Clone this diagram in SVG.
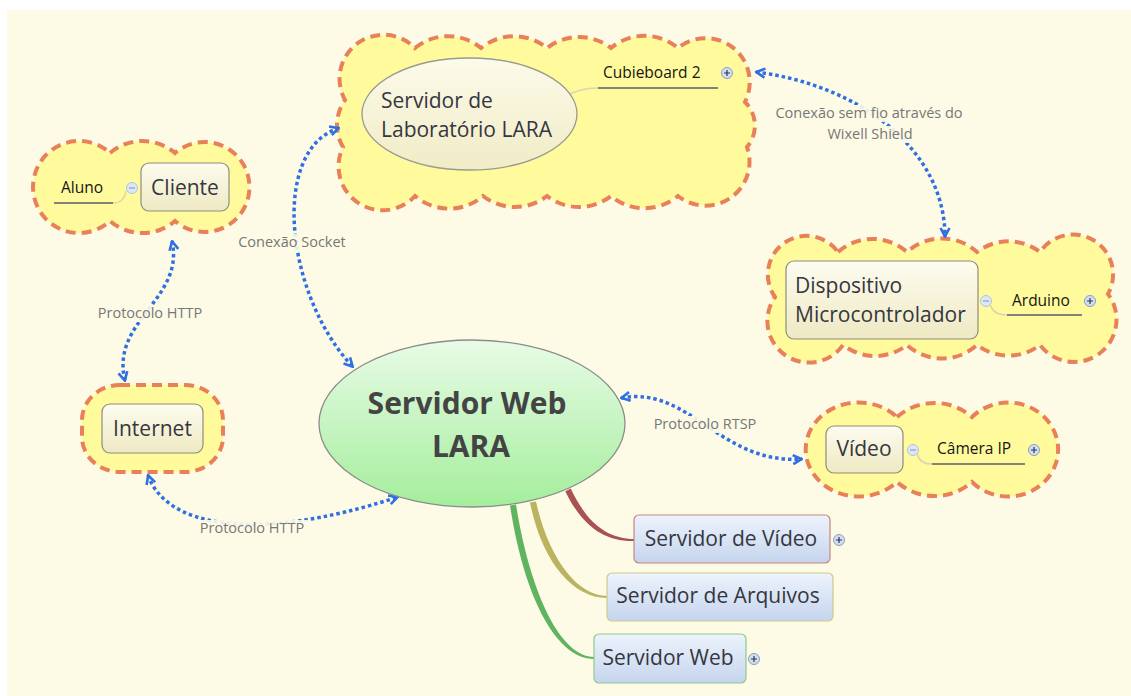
<svg xmlns="http://www.w3.org/2000/svg" width="1131" height="696" viewBox="0 0 1131 696">
  <defs>
    <linearGradient id="gCream" x1="0" y1="0" x2="0" y2="1">
      <stop offset="0" stop-color="#FDFCEF"/>
      <stop offset="1" stop-color="#EEE9C3"/>
    </linearGradient>
    <linearGradient id="gLab" x1="0" y1="0" x2="0" y2="1">
      <stop offset="0" stop-color="#FCFAEA"/>
      <stop offset="1" stop-color="#F0ECC6"/>
    </linearGradient>
    <linearGradient id="gCentral" x1="0" y1="0" x2="0" y2="1">
      <stop offset="0" stop-color="#E8FBE6"/>
      <stop offset="1" stop-color="#A4EE9C"/>
    </linearGradient>
    <linearGradient id="gBlue" x1="0" y1="0" x2="0" y2="1">
      <stop offset="0" stop-color="#EDF3FC"/>
      <stop offset="1" stop-color="#C5D5EE"/>
    </linearGradient>
    <marker id="chev" viewBox="0 0 12 12" refX="11" refY="6" markerWidth="12" markerHeight="12" markerUnits="userSpaceOnUse" orient="auto-start-reverse">
      <path d="M2,1.5 L10.5,6 L2,10.5" fill="none" stroke="#2F6FE4" stroke-width="2.6" stroke-linejoin="miter"/>
    </marker>
    <g id="plusIcon">
      <circle r="5.5" fill="#D2DEF1" stroke="#8C9EBE" stroke-width="1"/>
      <path d="M-3,0 H3 M0,-3 V3" stroke="#2E3650" stroke-width="1.2"/>
    </g>
    <g id="minusIcon">
      <circle r="5.5" fill="#DDE7F7" stroke="#B3C3DE" stroke-width="1"/>
      <path d="M-3,0 H3" stroke="#8FA0C2" stroke-width="1.2"/>
    </g>
  </defs>
  <style>
    .cloud { fill: #FFFB9C; stroke: #E8805A; stroke-width: 4; stroke-dasharray: 10 6; }
    .topic { fill: url(#gCream); stroke: #8E8C80; stroke-width: 1.2; }
    .sub { fill: url(#gBlue); stroke-width: 1.2; }
    .big { font-family: "Open Sans", "Noto Sans", sans-serif; font-size: 21px; fill: #363640; }
    .small { font-family: "Open Sans", "Noto Sans", sans-serif; font-size: 15.5px; fill: #151515; }
    .lbl { font-family: "Open Sans", "Noto Sans", sans-serif; font-size: 14.5px; fill: #777777; text-anchor: middle; }
    .lblbg { fill: #FDFBE6; opacity: 0.9; }
    .dot { fill: none; stroke: #2F6FE4; stroke-width: 3.5; stroke-dasharray: 3.5 3; marker-start: url(#chev); marker-end: url(#chev); }
    .uline { stroke: #5A5A6E; stroke-width: 1.3; fill: none; }
    .stem { stroke: #D9D5AE; stroke-width: 1.5; fill: none; }
  </style>

  <!-- page -->
  <rect x="7" y="10" width="1124" height="686" fill="#FDFBE6"/>

  <!-- clouds (boundaries) -->
  <g id="cloud-lab">
    <path class="cloud" d="M415,48 A52,52 0 0 1 481,48 A52,52 0 0 1 547,48 A52,52 0 0 1 611,48 A52,52 0 0 1 678,48 A44,44 0 0 1 745,102 A33,33 0 0 1 747,147 A44,44 0 0 1 678,196 A52,52 0 0 1 611,196 A52,52 0 0 1 547,196 A52,52 0 0 1 483,196 A52,52 0 0 1 415,196 A44,44 0 0 1 343,147 A43,43 0 0 1 345,100 A44,44 0 0 1 415,48 Z"/>
  </g>
  <g id="cloud-cliente">
    <path class="cloud" d="M110,153 A50,50 0 0 1 175,153 A45,45 0 1 1 175,221 A50,50 0 0 1 110,221 A46,46 0 1 1 110,153 Z"/>
  </g>
  <g id="cloud-internet">
    <rect class="cloud" x="82" y="385" width="141" height="87" rx="38" ry="35"/>
  </g>
  <g id="cloud-dispositivo">
    <path class="cloud" d="M838,252 A52,52 0 0 1 907,252 A52,52 0 0 1 977,252 A52,52 0 0 1 1040,252 A40,40 0 0 1 1108,294 A42.5,42.5 0 0 1 1040,345 A52,52 0 0 1 977,345 A52,52 0 0 1 907,345 A52,52 0 0 1 843,345 A41.6,41.6 0 0 1 775,297 A38.7,38.7 0 0 1 838,252 Z"/>
  </g>
  <g id="cloud-video">
    <path class="cloud" d="M897,417 A57,57 0 0 1 972,417 A50,47 0 1 1 972,482 A57,57 0 0 1 897,482 A53,47 0 1 1 897,417 Z"/>
  </g>

  <!-- branches from the central topic -->
  <g id="branches">
    <path d="M570.7,488.6 C587,523 607,539 635,539 L635,541 C605,542 583,527 565.3,491.4 Z" fill="#AA5252"/>
    <path d="M536,501.4 C548,557 577,596 607,596 L607,598 C573,598 542,562 530,502.6 Z" fill="#BAB460"/>
    <path d="M516,504.5 C531,598 562,657 594,657 L594,659 C558,659 525,602 510,505.5 Z" fill="#60B460"/>
  </g>

  <!-- relationship connectors -->
  <g id="connectors">
    <path class="dot" d="M172,241 C185,300 110,320 125,381"/>
    <path class="dot" d="M148,475 C165,525 250,545 398,497"/>
    <path class="dot" d="M339,128 C270,150 285,295 353,367"/>
    <path class="dot" d="M621,398 C690,385 720,465 802,459"/>
    <path class="dot" d="M756,72 C860,85 945,150 945,237"/>
    <rect class="lblbg" x="95" y="305" width="110" height="17"/>
    <rect class="lblbg" x="236" y="234" width="112" height="17"/>
    <rect class="lblbg" x="196" y="520" width="112" height="17"/>
    <rect class="lblbg" x="651" y="416" width="108" height="17"/>
    <rect class="lblbg" x="773" y="105" width="193" height="17"/>
    <rect class="lblbg" x="824" y="126" width="92" height="17"/>
    <text class="lbl" x="150" y="318">Protocolo HTTP</text>
    <text class="lbl" x="292" y="247">Conexão Socket</text>
    <text class="lbl" x="252" y="533">Protocolo HTTP</text>
    <text class="lbl" x="705" y="429">Protocolo RTSP</text>
    <text class="lbl" x="869" y="118">Conexão sem fio através do</text>
    <text class="lbl" x="870" y="139">Wixell Shield</text>
  </g>

  <!-- Servidor de Laboratório LARA -->
  <g id="node-lab">
    <path class="stem" d="M566,96 Q580,88 598,88"/>
    <ellipse cx="469.5" cy="114" rx="107.5" ry="56" fill="url(#gLab)" stroke="#9A9A90" stroke-width="1.3"/>
    <text class="big" x="381" y="108">Servidor de</text>
    <text class="big" x="381" y="137">Laboratório LARA</text>
  </g>
  <g id="node-cubieboard">
    <text class="small" x="603" y="78">Cubieboard 2</text>
    <path class="uline" d="M598,88 H718"/>
    <use href="#plusIcon" x="727" y="73"/>
  </g>

  <!-- Cliente -->
  <g id="node-cliente">
    <rect class="topic" x="141" y="163" width="88" height="48" rx="8"/>
    <text class="big" x="185" y="195" text-anchor="middle">Cliente</text>
    <use href="#minusIcon" x="132" y="188"/>
  </g>
  <g id="node-aluno">
    <path class="stem" d="M113,203 Q124,203 126,191"/>
    <text class="small" x="61" y="193">Aluno</text>
    <path class="uline" d="M54,203 H113"/>
  </g>

  <!-- Internet -->
  <g id="node-internet">
    <rect class="topic" x="102" y="404" width="101" height="49" rx="8"/>
    <text class="big" x="152.5" y="436" text-anchor="middle">Internet</text>
  </g>

  <!-- Dispositivo Microcontrolador -->
  <g id="node-dispositivo">
    <rect class="topic" x="786" y="261" width="192" height="78" rx="8"/>
    <text class="big" x="795" y="293">Dispositivo</text>
    <text class="big" x="795" y="322">Microcontrolador</text>
    <use href="#minusIcon" x="986" y="301"/>
  </g>
  <g id="node-arduino">
    <path class="stem" d="M990,304 Q993,315 1007,315"/>
    <text class="small" x="1012" y="306">Arduino</text>
    <path class="uline" d="M1007,315 H1082"/>
    <use href="#plusIcon" x="1090" y="301"/>
  </g>

  <!-- Vídeo -->
  <g id="node-video">
    <rect class="topic" x="826" y="426" width="77" height="47" rx="8"/>
    <text class="big" x="864" y="456" text-anchor="middle">Vídeo</text>
    <use href="#minusIcon" x="913" y="450"/>
  </g>
  <g id="node-camera">
    <path class="stem" d="M917,453 Q919,464 932,464"/>
    <text class="small" x="937" y="454">Câmera IP</text>
    <path class="uline" d="M932,464 H1025"/>
    <use href="#plusIcon" x="1034" y="450"/>
  </g>

  <!-- Servidor Web LARA (central topic) -->
  <g id="node-central">
    <ellipse cx="472" cy="423.5" rx="153" ry="83.5" fill="url(#gCentral)" stroke="#8C8C8C" stroke-width="1.3"/>
    <text x="467" y="414" text-anchor="middle" font-family="'Open Sans', 'Noto Sans', sans-serif" font-size="30" font-weight="bold" fill="#444444">Servidor Web</text>
    <text x="471" y="457" text-anchor="middle" font-family="'Open Sans', 'Noto Sans', sans-serif" font-size="30" font-weight="bold" fill="#444444">LARA</text>
  </g>

  <!-- subtopics -->
  <g id="node-srv-video">
    <rect class="sub" x="634" y="515" width="196" height="48" rx="5" stroke="#C98383"/>
    <text class="big" x="731" y="546" text-anchor="middle">Servidor de Vídeo</text>
    <use href="#plusIcon" x="839" y="540"/>
  </g>
  <g id="node-srv-arquivos">
    <rect class="sub" x="607" y="573" width="226" height="48" rx="5" stroke="#CDC98B"/>
    <text class="big" x="718" y="603" text-anchor="middle">Servidor de Arquivos</text>
  </g>
  <g id="node-srv-web">
    <rect class="sub" x="594" y="634" width="152" height="49" rx="5" stroke="#8CCB8C"/>
    <text class="big" x="668" y="665" text-anchor="middle">Servidor Web</text>
    <use href="#plusIcon" x="754" y="659"/>
  </g>
</svg>
